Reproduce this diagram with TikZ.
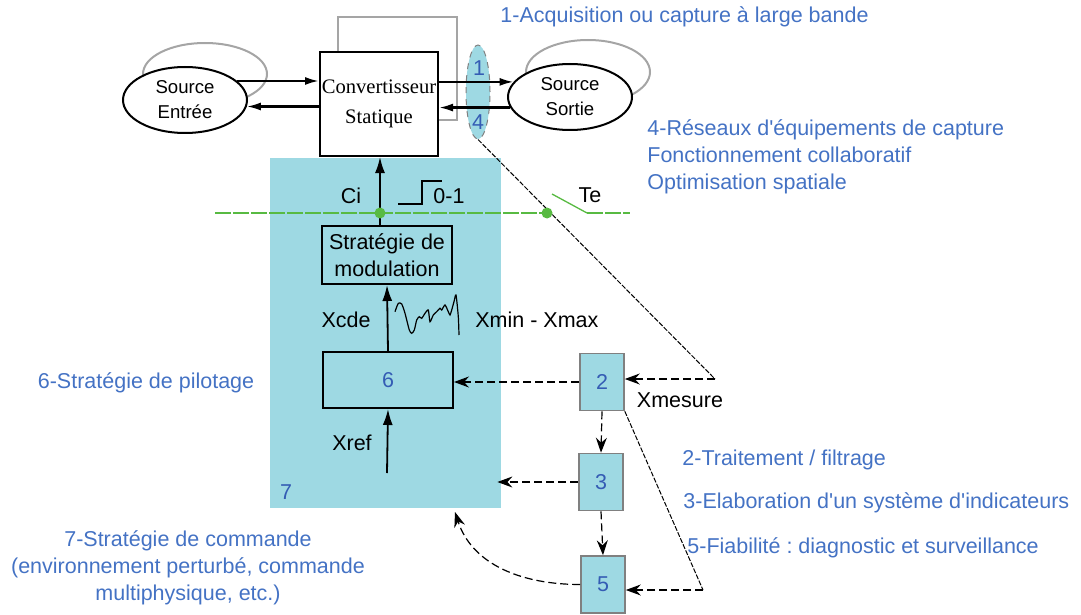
\documentclass[tikz,border=0pt]{standalone}
\usepackage{fontspec}
\setmainfont{Liberation Sans}
\newfontfamily\timesfont{Liberation Serif}
\usetikzlibrary{arrows.meta,shapes.geometric}
\definecolor{cyanfill}{RGB}{158,217,227}
\definecolor{lblblue}{RGB}{68,114,196}
\definecolor{numblue}{RGB}{52,92,180}
\definecolor{loopgray}{RGB}{165,165,165}
\definecolor{trigreen}{RGB}{88,186,66}
\begin{document}
\frenchspacing
\begin{tikzpicture}[x=0.5pt,y=-0.5pt,
    lbl/.style={text=lblblue,font=\fontsize{10.75}{13.5}\selectfont,inner sep=0pt},
    blk/.style={font=\fontsize{10.75}{13.5}\selectfont,inner sep=0pt},
    num/.style={text=numblue,font=\fontsize{10.75}{13}\selectfont,inner sep=0pt},
    srcell/.style={ellipse,draw,line width=1pt,fill=white,minimum width=62pt,minimum height=33pt,
        inner sep=0pt,align=center,font=\fontsize{9.3}{12.5}\selectfont},
    loopell/.style={draw=loopgray,line width=1pt},
    blkbox/.style={draw,line width=1pt,inner sep=0pt,align=center},
    stagebox/.style={draw=gray,line width=0.8pt,fill=cyanfill,minimum width=22pt,minimum height=28.5pt,
        inner sep=0pt,text=numblue,font=\fontsize{10.75}{13}\selectfont},
    pow/.style={line width=1.1pt,-{Latex[length=7pt,width=4pt]}},
    sig/.style={line width=0.9pt,-{Latex[length=8pt,width=5pt]}},
    dasharr/.style={line width=0.6pt,dash pattern=on 4pt off 2pt,-{Stealth[length=7.5pt,width=5.5pt,inset=2.5pt]}},
    fine/.style={line width=0.5pt,dash pattern=on 2.5pt off 0.8pt},
    gline/.style={draw=trigreen,line width=0.65pt,dash pattern=on 8pt off 1pt}]
\useasboundingbox (0,0) rectangle (1081,615);

% Loops behind the sources and the converter
\draw [loopell] (205,74) ellipse [x radius=62, y radius=31];%
\draw [loopell] (588,72) ellipse [x radius=62, y radius=32];%
\draw [loopell] (338,52) -- (338,17) -- (457,17) -- (457,120) -- (438,120);%

% Control area 7
\node [fill=cyanfill, minimum width=115.5pt, minimum height=175pt, inner sep=0pt] (ctrl) at (385.5,333) {};%

% Converter and sources
\node [blkbox, fill=white, minimum width=59pt, minimum height=52pt,
    font=\timesfont\fontsize{10.3}{15}\selectfont] (conv) at (379,104) {Convertisseur\\Statique};%
\node [srcell] (srcin) at (185,100) {Source\\Entrée};%
\node [srcell] (srcout) at (570,97) {Source\\Sortie};%

% Capture zone 1 / 4
\node [ellipse, draw=gray, dashed, line width=0.5pt, fill=cyanfill, minimum width=12pt,
    minimum height=47pt, inner sep=0pt] (cap) at (478,92) {};%
\draw (479,68) node [num] (n1) {1};%
\draw (478,122) node [num] (n4) {4};%

% Power flows
\draw [pow] (srcin.20) -- (srcin.20 -| conv.west);%
\draw [pow] (conv.west |- srcin.-6) -- (srcin.-6);%
\draw [pow] (conv.east |- srcout.165) -- (srcout.165);%
\draw [pow] (srcout.190) -- (srcout.190 -| conv.east);%

% Modulation and control blocks
\node [blkbox, blk, minimum width=65pt, minimum height=29pt] (strat) at (387,255) {Stratégie de\\modulation};%
\node [blkbox, minimum width=65pt, minimum height=28pt, num] (box6) at (388,380) {6};%
\coordinate (xrefin) at (387,473);

% Command signals
\draw [sig] (strat.north -| 380,0) -- (conv.south -| 380,0);%
\draw [sig] (box6.north) -- (strat.south);%
\draw [sig] (xrefin) -- (box6.south);%

% Sampling line Te
\draw [gline] (215,213) -- (547,213);%
\draw [draw=trigreen, line width=0.65pt] (552,194) -- (587,213);%
\draw [gline] (587,213) -- (630,213);%

% Measurement line from capture
\coordinate (xm) at (715,379);
\draw [fine] (cap.south) -- (xm);%
\fill [trigreen] (380,213) circle (5.5);%
\fill [trigreen] (547,213) circle (5.5);%

% Step 0-1
\draw [line width=0.6pt] (398,204) -- (422,204) -- (422,181) -- (442,181);%

% Waveform Xmin - Xmax
\draw [line width=0.6pt] plot [smooth, tension=0.4] coordinates {(395,311.7) (398.3,303.3) (401.7,304)
    (405,313.3) (409.3,330) (411.7,333.3) (414.3,330) (416.7,320) (419.3,316.7) (421.7,318.3)
    (425,313.3) (428.3,310) (430,321.7) (433.3,315) (436.7,311.7) (440,308.3) (441.7,310)
    (445,305) (448.3,311.7) (450,315) (451.7,310) (454,301.7) (456,295) (458.3,316.7) (459,335)};%

% Signal labels
\draw (351,196) node [blk] (lci) {Ci};%
\draw (433,196) node [blk, anchor=west] (l01) {0-1};%
\draw (590,195) node [blk] (lte) {Te};%
\draw (346,320) node [blk] (lxcde) {Xcde};%
\draw (475,320) node [blk, anchor=west] (lxmm) {Xmin - Xmax};%
\draw (352,443) node [blk] (lxref) {Xref};%
\draw (286,492) node [num] (n7) {7};%
\draw (680,400) node [blk] (lxmes) {Xmesure};%

% Processing stages 2, 3, 5
\node [stagebox] (box2) at (602,382) {2};%
\node [stagebox] (box3) at (601,482) {3};%
\node [stagebox] (box5) at (603,584.5) {5};%
\coordinate (fbk) at (703,590);
\coordinate (cmdin) at (455,512);

\draw [dasharr] (xm) -- (xm -| box2.east);%
\draw [dasharr] (box2.west) -- (box2.west -| box6.east);%
\draw [dasharr] (box2.south) -- (box3.north);%
\draw [dasharr] (box3.south) -- (box5.north);%
\draw [dasharr] (box3.west) -- ([xshift=-2pt]box3.west -| ctrl.east);%
\draw [fine] (box2.south east) -- (fbk);%
\draw [dasharr] (fbk) -- (fbk -| box5.east);%
\draw [dasharr] (box5.west) to [out=180, in=-72] (cmdin);%

% Legend texts
\draw (500,17) node [lbl, anchor=west] (t1) {1-Acquisition ou capture à large bande};%
\draw (647,157) node [lbl, anchor=west, align=left] (t4) {4-Réseaux d\textquotesingle équipements de capture\\Fonctionnement collaboratif\\Optimisation spatiale};%
\draw (146,383) node [lbl] (t6) {6-Stratégie de pilotage};%
\draw (188,568) node [lbl, align=center] (t7) {7-Stratégie de commande\\(environnement perturbé, commande\\multiphysique, etc.)};%
\draw (682,460) node [lbl, anchor=west] (t2) {2-Traitement / filtrage};%
\draw (683,503) node [lbl, anchor=west] (t3) {3-Elaboration d\textquotesingle un système d\textquotesingle indicateurs};%
\draw (687,548) node [lbl, anchor=west] (t5) {5-Fiabilité : diagnostic et surveillance};%
\end{tikzpicture}
\end{document}
